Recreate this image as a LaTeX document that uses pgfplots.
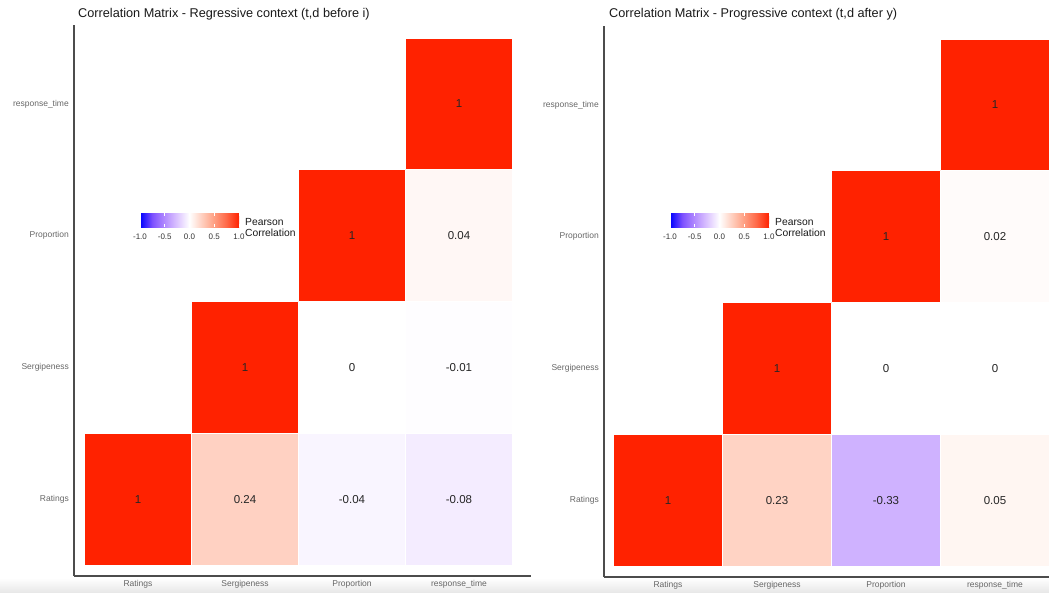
\documentclass[border=0pt]{standalone}
\usepackage{fontspec}
\setmainfont{Liberation Sans}
\usepackage{pgfplots}
\usepackage{pgfplotstable}
\usepgfplotslibrary{patchplots}
\pgfplotsset{compat=1.18}

\pgfplotsset{
  colormap={corr}{rgb255(0cm)=(0,0,255); rgb255(1cm)=(126,81,255); rgb255(2cm)=(179,139,255); rgb255(3cm)=(220,196,255); rgb255(4cm)=(255,255,255); rgb255(5cm)=(255,207,191); rgb255(6cm)=(255,158,129); rgb255(7cm)=(255,103,70); rgb255(8cm)=(255,34,0)},
}

% cell centres with correlation values (left: regressive, right: progressive)
\pgfplotstableread{
x y cL cR
1 1 1 1
2 1 0.24 0.23
3 1 -0.04 -0.33
4 1 -0.08 0.05
2 2 1 1
3 2 0 0
4 2 -0.01 0
3 3 1 1
4 3 0.04 0.02
4 4 1 1
}\centers

% tile corners (4 per tile) with the tile's correlation
\pgfplotstableread{
x y cL cR
0.5 0.5 1 1
1.5 0.5 1 1
1.5 1.5 1 1
0.5 1.5 1 1
1.5 0.5 0.24 0.23
2.5 0.5 0.24 0.23
2.5 1.5 0.24 0.23
1.5 1.5 0.24 0.23
2.5 0.5 -0.04 -0.33
3.5 0.5 -0.04 -0.33
3.5 1.5 -0.04 -0.33
2.5 1.5 -0.04 -0.33
3.5 0.5 -0.08 0.05
4.5 0.5 -0.08 0.05
4.5 1.5 -0.08 0.05
3.5 1.5 -0.08 0.05
1.5 1.5 1 1
2.5 1.5 1 1
2.5 2.5 1 1
1.5 2.5 1 1
2.5 1.5 0 0
3.5 1.5 0 0
3.5 2.5 0 0
2.5 2.5 0 0
3.5 1.5 -0.01 0
4.5 1.5 -0.01 0
4.5 2.5 -0.01 0
3.5 2.5 -0.01 0
2.5 2.5 1 1
3.5 2.5 1 1
3.5 3.5 1 1
2.5 3.5 1 1
3.5 2.5 0.04 0.02
4.5 2.5 0.04 0.02
4.5 3.5 0.04 0.02
3.5 3.5 0.04 0.02
3.5 3.5 1 1
4.5 3.5 1 1
4.5 4.5 1 1
3.5 4.5 1 1
}\tiles

\pgfplotsset{
  corrax/.style={
    scale only axis,
    colormap name=corr,
    point meta min=-1, point meta max=1,
    xtick={1,2,3,4}, ytick={1,2,3,4},
    xticklabels={Ratings,Sergipeness,Proportion,response\_time},
    yticklabels={Ratings,Sergipeness,Proportion,response\_time},
    axis x line=bottom, axis y line=left,
    axis line style={-, line width=1.1pt, draw=black!70},
    major tick length=0pt,
    tick label style={font=\fontsize{8.5}{10}\selectfont, text=black!60},
    xticklabel style={inner sep=0pt, yshift=-4pt, anchor=north},
    yticklabel style={inner sep=0pt, xshift=-5pt, anchor=east},
    ymin=0.4165, ymax=4.599, height=551pt,
    colorbar horizontal,
    colorbar style={
      anchor=south west,
      width=99pt, height=14pt, scale only axis,
      xtick={-1,-0.5,0,0.5,1},
      xticklabels={-1.0,-0.5,0.0,0.5,1.0},
      xticklabel style={font=\fontsize{8}{9}\selectfont, text=black!80, inner sep=1pt, yshift=-5pt},
      major tick length=3pt,
      xtick style={draw=white, line width=0.6pt},
      axis line style={draw=none},
    },
  },
  tileplot/.style={
    patch, patch type=rectangle, shader=faceted, faceted color=white,
    line width=0.6pt, point meta=explicit,
  },
  cellnodes/.style={
    only marks, mark=none, point meta=explicit,
    nodes near coords={\pgfmathprintnumber[fixed, precision=2, assume math mode=true]{\pgfplotspointmeta}},
    nodes near coords align={center},
    every node near coord/.append style={anchor=center, text=black!85, font=\fontsize{11.5}{13}\selectfont},
  },
}

\begin{document}
\begin{tikzpicture}
\useasboundingbox (0,0) rectangle (1049pt,592pt);
\clip (0,0) rectangle (1049pt,592pt);
\shade[top color=white, bottom color=black!9] (0,0) rectangle (1049pt,14pt);

\begin{axis}[corrax, at={(74pt,16pt)}, anchor=south west, width=457pt,
  xmin=0.402, xmax=4.673,
  colorbar style={at={(parent axis.south west)}, xshift=66pt, yshift=357.3pt}]
\addplot[tileplot] table[x=x, y=y, meta=cL]{\tiles};
\addplot[cellnodes] table[x=x, y=y, meta=cL]{\centers};
\end{axis}

\begin{axis}[corrax, at={(604pt,15pt)}, anchor=south west, width=465pt,
  xmin=0.413, xmax=4.679,
  colorbar style={at={(parent axis.south west)}, xshift=66pt, yshift=358.3pt}]
\addplot[tileplot] table[x=x, y=y, meta=cR]{\tiles};
\addplot[cellnodes] table[x=x, y=y, meta=cR]{\centers};
\end{axis}

\node[anchor=base west, font=\fontsize{12.7}{14}\selectfont, text=black!90, inner sep=0pt] at (78pt,574pt) {Correlation Matrix - Regressive context (t,d before i)};
\node[anchor=base west, font=\fontsize{12.7}{14}\selectfont, text=black!90, inner sep=0pt] at (609pt,574pt) {Correlation Matrix - Progressive context (t,d after y)};

\node[anchor=west, align=left, font=\fontsize{10.3}{11.6}\selectfont, text=black!90, inner sep=0pt] at (245pt,364.5pt) {Pearson\\Correlation};
\node[anchor=west, align=left, font=\fontsize{10.3}{11.6}\selectfont, text=black!90, inner sep=0pt] at (775pt,364.5pt) {Pearson\\Correlation};
\end{tikzpicture}
\end{document}
